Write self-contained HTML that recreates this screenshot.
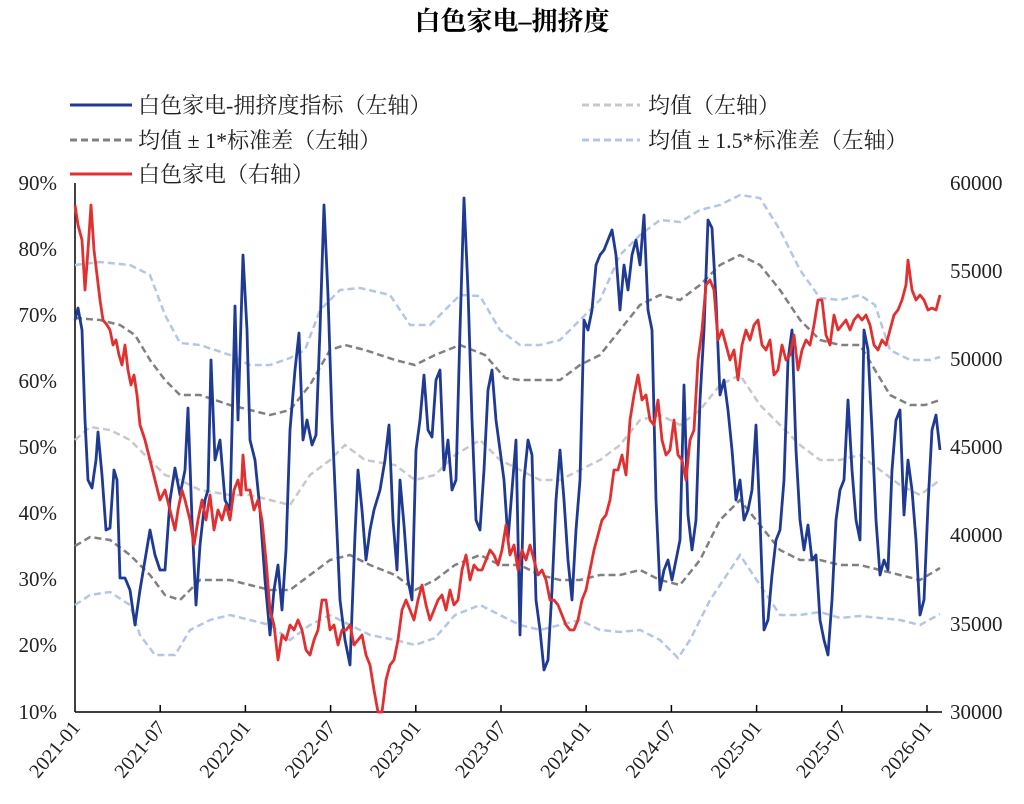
<!DOCTYPE html>
<html><head><meta charset="utf-8"><style>
body{margin:0;background:#fff;}
svg{display:block;font-family:"Liberation Serif","Noto Serif CJK SC",serif;}
</style></head><body>
<svg width="1024" height="804" viewBox="0 0 1024 804" xmlns="http://www.w3.org/2000/svg">
<text x="512" y="30" text-anchor="middle" font-size="26" font-weight="bold" fill="#000">白色家电–拥挤度</text>
<g font-size="22" fill="#222">
<line x1="70" y1="105" x2="132" y2="105" stroke="#1f3a93" stroke-width="3"/><text x="138" y="113">白色家电-拥挤度指标（左轴）</text>
<line x1="582" y1="105" x2="640" y2="105" stroke="#c8c8c8" stroke-width="3" stroke-dasharray="7,4"/><text x="648" y="113">均值（左轴）</text>
<line x1="70" y1="140" x2="132" y2="140" stroke="#808080" stroke-width="3" stroke-dasharray="7,4"/><text x="138" y="148">均值 ± 1*标准差（左轴）</text>
<line x1="582" y1="140" x2="640" y2="140" stroke="#b4c6e7" stroke-width="3" stroke-dasharray="7,4"/><text x="648" y="148">均值 ± 1.5*标准差（左轴）</text>
<line x1="70" y1="174" x2="132" y2="174" stroke="#e03030" stroke-width="3"/><text x="138" y="182">白色家电（右轴）</text>
</g>
<g font-size="21" fill="#222" text-anchor="end">
<text x="57" y="190">90%</text><text x="57" y="256">80%</text><text x="57" y="322">70%</text><text x="57" y="388">60%</text><text x="57" y="454">50%</text><text x="57" y="520">40%</text><text x="57" y="586">30%</text><text x="57" y="652">20%</text><text x="57" y="719">10%</text>
</g>
<g font-size="21" fill="#222">
<text x="950" y="190">60000</text><text x="950" y="278">55000</text><text x="950" y="366">50000</text><text x="950" y="454">45000</text><text x="950" y="542">40000</text><text x="950" y="631">35000</text><text x="950" y="719">30000</text>
</g>
<g stroke="#000" stroke-width="1.5">
<line x1="75" y1="183" x2="75" y2="712"/>
<line x1="75" y1="712" x2="942" y2="712"/>
</g>
<g id="xt" font-size="20" fill="#222" text-anchor="end"></g>
<g fill="none" stroke-width="2.5" stroke-dasharray="7,4">
<polyline stroke="#c8c8c8" points="75,440 90,427 110,430 130,440 150,460 165,475 180,480 200,490 230,495 250,495 270,500 290,505 310,475 330,460 345,445 365,460 395,465 415,480 435,475 455,455 480,440 500,460 520,470 540,480 560,480 580,470 600,460 620,445 640,420 660,415 680,425 700,410 720,385 740,375 760,405 780,425 800,445 820,460 840,460 860,455 880,470 900,485 920,495 940,480"/>
<polyline stroke="#808080" points="75,318 100,320 120,325 135,335 150,360 165,380 180,395 200,395 230,405 250,410 270,415 290,410 310,385 330,350 345,345 365,350 395,360 415,365 435,355 460,345 485,355 505,378 520,380 540,380 560,380 580,365 600,355 620,330 640,305 660,295 680,300 700,285 720,265 740,255 760,265 780,290 800,320 820,340 840,345 860,345 875,370 890,395 910,405 925,405 940,400"/>
<polyline stroke="#808080" points="75,546 90,537 110,540 130,555 150,575 165,595 180,600 200,580 230,580 250,585 270,590 290,590 310,575 330,560 350,555 370,565 395,575 415,590 435,580 455,565 480,555 500,565 520,565 540,575 560,580 580,580 600,575 620,575 640,570 660,580 680,585 700,560 720,520 740,500 760,525 780,550 800,560 820,560 840,565 860,565 880,570 900,575 920,580 940,568"/>
<polyline stroke="#b4c6e7" points="75,265 100,262 130,265 150,275 165,315 180,343 200,345 230,355 250,365 270,365 290,358 305,350 320,310 340,290 360,288 390,295 410,325 430,325 460,295 480,296 500,330 520,345 540,345 560,340 580,320 600,300 620,255 640,235 660,220 680,222 700,210 720,205 740,195 760,198 780,230 800,270 820,298 840,300 860,295 875,305 890,350 910,360 930,360 940,357"/>
<polyline stroke="#b4c6e7" points="75,605 90,595 110,592 130,605 140,635 155,655 175,655 190,630 210,620 230,615 250,620 270,625 290,640 310,625 330,615 350,625 370,635 395,640 415,645 435,638 455,615 480,605 500,615 520,625 540,630 560,625 580,620 600,630 620,632 640,630 660,640 678,658 690,640 710,600 740,555 760,585 780,615 800,615 820,612 840,618 860,616 880,618 900,620 920,625 940,614"/>
</g>
<polyline fill="none" stroke="#1f3a93" stroke-width="2.8" stroke-linejoin="round" points="75,320 78,308 82,330 85,420 88,480 92,488 96,460 98,432 102,475 106,530 110,528 114,470 117,480 120,578 125,578 130,590 135,625 140,590 145,560 150,530 155,555 160,570 165,570 170,500 175,468 180,495 185,470 188,408 192,520 196,605 200,545 205,500 208,490 211,360 215,460 220,440 225,500 230,510 235,306 238,420 243,255 247,330 250,440 255,460 260,510 265,580 270,635 274,590 278,565 282,610 286,550 290,430 295,370 299,333 303,440 307,420 312,445 316,435 320,330 324,205 328,295 332,420 336,510 340,600 345,640 350,665 355,535 358,470 362,510 366,560 370,530 374,510 380,490 385,460 389,425 393,520 397,570 400,480 404,525 408,580 412,600 416,450 420,420 424,375 428,430 432,437 436,380 440,370 444,470 448,440 452,490 456,480 460,330 464,198 468,290 472,420 476,520 480,530 484,470 488,390 492,370 496,420 500,450 504,480 508,540 512,490 516,440 520,635 524,480 528,440 532,455 536,600 540,630 544,670 548,660 552,590 556,500 560,450 564,500 568,560 572,600 576,530 580,480 584,320 588,330 592,310 596,265 600,255 604,250 608,240 612,230 616,255 620,310 624,265 628,290 632,255 636,240 640,265 644,215 648,310 652,330 656,500 660,590 664,570 668,560 672,580 676,560 680,540 684,385 688,515 692,550 696,520 700,400 704,330 708,220 712,228 716,300 720,395 724,380 728,410 732,450 736,500 740,480 744,520 748,510 752,490 756,425 760,520 764,630 768,620 772,575 776,540 780,530 784,480 788,360 792,330 796,450 800,520 804,550 808,525 812,560 816,555 820,620 824,640 828,655 832,600 836,520 840,490 844,480 848,400 852,470 856,520 860,540 864,330 868,350 872,430 876,520 880,575 884,560 888,570 892,470 896,420 900,410 904,515 908,460 912,490 916,540 920,615 924,600 928,505 932,430 936,415 940,450"/>
<polyline fill="none" stroke="#e03030" stroke-width="2.8" stroke-linejoin="round" points="75,205 78,225 82,240 85,290 88,250 91,205 94,250 97,275 100,300 103,320 107,325 110,330 113,345 116,340 119,355 122,365 125,345 128,370 131,385 134,375 137,395 140,425 145,440 150,460 155,480 160,500 165,490 170,510 175,530 178,510 182,490 185,500 190,520 194,545 198,520 202,500 206,520 210,495 214,530 218,510 222,520 226,505 230,520 234,490 238,480 241,495 243,455 246,490 250,490 254,510 258,500 262,520 266,560 270,610 274,625 278,660 282,635 286,640 290,625 294,630 298,620 302,630 306,650 310,655 314,640 318,630 322,600 326,600 330,630 334,625 338,645 342,630 346,630 350,625 354,645 358,640 362,635 366,655 370,665 374,690 378,712 382,712 386,680 390,665 394,660 398,640 402,610 406,600 410,610 414,620 418,600 422,585 426,605 430,620 434,610 438,600 442,595 446,610 450,590 454,605 458,600 462,570 466,555 470,580 474,565 478,570 482,570 486,560 490,550 494,555 498,565 502,550 506,525 510,555 514,545 518,570 522,550 526,560 530,545 534,560 538,575 542,570 546,580 550,600 554,600 558,605 562,615 566,625 570,630 574,630 578,620 582,600 586,590 590,570 594,550 598,535 602,520 606,515 610,500 614,470 618,470 622,455 626,475 630,420 634,395 638,375 642,400 646,395 650,420 654,425 658,400 662,440 666,455 670,450 674,420 678,455 682,460 686,480 690,440 694,430 698,360 702,330 706,285 710,280 714,290 718,340 722,330 726,345 730,360 734,350 738,380 742,345 746,330 750,340 754,325 758,320 762,345 766,350 770,340 774,375 778,370 782,345 786,360 790,355 794,335 798,370 802,350 806,340 810,345 814,325 818,300 822,300 826,335 830,345 834,315 838,330 842,325 846,320 850,330 854,320 858,315 862,320 866,315 870,325 874,345 878,350 882,340 886,345 890,330 894,315 898,310 902,300 906,285 908,260 912,290 916,300 920,295 924,300 928,310 932,308 936,310 940,295"/>
</svg>
<script>
var labs=["2021-01","2021-07","2022-01","2022-07","2023-01","2023-07","2024-01","2024-07","2025-01","2025-07","2026-01"];
var g=document.getElementById("xt"),ns="http://www.w3.org/2000/svg",s=g.ownerSVGElement;
labs.forEach(function(l,i){var x=75+i*85.2;
var t=document.createElementNS(ns,"text");t.setAttribute("transform","translate("+(x+6)+",728) rotate(-50)");t.textContent=l;g.appendChild(t);
if(i>0){var ln=document.createElementNS(ns,"line");ln.setAttribute("x1",x);ln.setAttribute("x2",x);ln.setAttribute("y1",705);ln.setAttribute("y2",712);ln.setAttribute("stroke","#000");ln.setAttribute("stroke-width","1.5");s.appendChild(ln);}
});
</script>
</body></html>
